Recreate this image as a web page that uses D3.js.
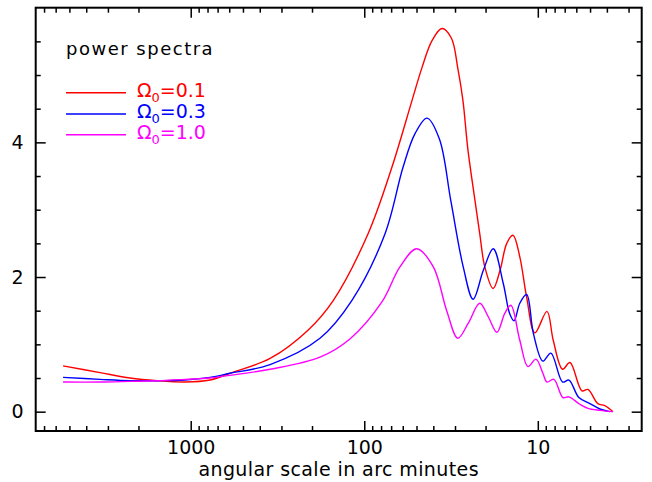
<!DOCTYPE html>
<html>
<head>
<meta charset="utf-8">
<script src="https://cdn.jsdelivr.net/npm/d3@7"></script>
<style>
  html, body { margin: 0; padding: 0; background: #fff; }
  svg text { font-family: "DejaVu Sans", sans-serif; fill: #000; }
</style>
</head>
<body>
<svg id="chart" width="652" height="482"></svg>
<script>
"use strict";

// ===== Data (angular scale in arc minutes, power) =====
const omegaLabels = ["0.1", "0.3", "1.0"];
const omegaColors = ["#ff0000", "#0000ff", "#ff00ff"];

const thetaOmega01 = [5440, 3332, 2237, 1564, 1078, 774, 594, 349, 211, 151, 95.2, 69.3, 53.1, 46.5, 40.7, 35.7, 31.5, 28.9, 27.0, 25.3, 23.0, 21.6, 20.2, 18.1, 16.5, 15.1, 13.9, 12.7, 11.6, 10.4, 8.86, 8.15, 7.2, 6.53, 5.57, 5.14, 4.51, 4.11, 3.69];
const powerOmega01 = [0.68, 0.58, 0.50, 0.46, 0.44, 0.47, 0.57, 0.79, 1.21, 1.65, 2.64, 3.63, 4.62, 5.11, 5.51, 5.69, 5.55, 5.10, 4.62, 3.90, 3.13, 2.64, 2.15, 1.83, 2.10, 2.50, 2.62, 2.30, 1.70, 1.17, 1.49, 1.06, 0.63, 0.73, 0.31, 0.33, 0.12, 0.09, 0.0];

const thetaOmega03 = [5440, 3332, 2237, 1564, 1078, 774, 594, 349, 180, 118, 76.0, 59.8, 51.0, 43.5, 36.9, 31.7, 26.9, 23.6, 20.6, 18.07, 15.8, 14.5, 13.7, 12.7, 11.6, 10.6, 9.35, 8.41, 7.2, 6.62, 5.8, 5.01, 4.39, 3.84];
const powerOmega03 = [0.51, 0.48, 0.46, 0.46, 0.47, 0.51, 0.57, 0.70, 1.09, 1.65, 2.64, 3.63, 4.13, 4.36, 4.05, 3.13, 2.15, 1.67, 2.10, 2.42, 1.90, 1.45, 1.35, 1.61, 1.74, 1.16, 0.75, 0.87, 0.44, 0.47, 0.21, 0.12, 0.04, 0.0];

const thetaOmega10 = [5440, 3332, 2237, 1564, 1078, 774, 594, 349, 180, 121, 79.1, 62.3, 49.9, 40.0, 33.5, 28.9, 25.2, 21.6, 19.3, 17.2, 15.5, 14.3, 12.7, 11.4, 10.25, 9.35, 8.86, 8.08, 7.17, 6.62, 5.72, 5.14, 4.39, 3.69];
const powerOmega10 = [0.44, 0.44, 0.45, 0.46, 0.48, 0.50, 0.54, 0.63, 0.81, 1.08, 1.63, 2.15, 2.42, 2.15, 1.50, 1.09, 1.31, 1.61, 1.41, 1.18, 1.46, 1.58, 1.06, 0.67, 0.78, 0.57, 0.44, 0.48, 0.21, 0.22, 0.11, 0.05, 0.02, 0.0];

const xMajorTicks = [1000, 100, 10];
const xMinorTicks = [7000, 6000, 5000, 4000, 3000, 2000, 900, 800, 700, 600, 500, 400, 300, 200,
                     90, 80, 70, 60, 50, 40, 30, 20, 9, 8, 7, 6, 5, 4, 3];
const yMajorTicks = [0, 2, 4];
const yMinorTicks = [0.5, 1, 1.5, 2.5, 3, 3.5, 4.5, 5, 5.5];

const series = [
  { label: omegaLabels[0], color: omegaColors[0], theta: thetaOmega01, power: powerOmega01 },
  { label: omegaLabels[1], color: omegaColors[1], theta: thetaOmega03, power: powerOmega03 },
  { label: omegaLabels[2], color: omegaColors[2], theta: thetaOmega10, power: powerOmega10 },
];

// ===== Layout =====
const plot = { left: 35.7, right: 641.7, top: 7.7, bottom: 431 };

const svg = d3.select("#chart");

const x = d3.scaleLog()
  .domain([7820, 2.52])
  .range([plot.left, plot.right]);

const y = d3.scaleLinear()
  .domain([-0.287, 6])
  .range([plot.bottom, plot.top]);

// ===== Axes (ticks point inward, frame drawn separately) =====
function drawAxis(axis, transform, showLabels) {
  const gAx = svg.append("g").attr("transform", transform).call(axis);
  gAx.select(".domain").remove();
  gAx.selectAll(".tick line").attr("stroke", "#000").attr("stroke-width", 1.5);
  if (!showLabels) gAx.selectAll(".tick text").remove();
  return gAx;
}

const bottomMajor = drawAxis(
  d3.axisBottom(x).tickValues(xMajorTicks).tickSize(-10).tickPadding(10).tickFormat(d3.format("d")),
  `translate(0,${plot.bottom})`, true);
drawAxis(d3.axisBottom(x).tickValues(xMinorTicks).tickSize(-5), `translate(0,${plot.bottom})`, false);
drawAxis(d3.axisTop(x).tickValues(xMajorTicks).tickSize(-10), `translate(0,${plot.top})`, false);
drawAxis(d3.axisTop(x).tickValues(xMinorTicks).tickSize(-5), `translate(0,${plot.top})`, false);

const leftMajor = drawAxis(
  d3.axisLeft(y).tickValues(yMajorTicks).tickSize(-10).tickPadding(12).tickFormat(d3.format("d")),
  `translate(${plot.left},0)`, true);
drawAxis(d3.axisLeft(y).tickValues(yMinorTicks).tickSize(-5), `translate(${plot.left},0)`, false);
drawAxis(d3.axisRight(y).tickValues(yMajorTicks).tickSize(-10), `translate(${plot.right},0)`, false);
drawAxis(d3.axisRight(y).tickValues(yMinorTicks).tickSize(-5), `translate(${plot.right},0)`, false);

[bottomMajor, leftMajor].forEach(gAx => {
  gAx.selectAll(".tick text")
    .attr("font-size", 19)
    .attr("font-family", "DejaVu Sans, sans-serif")
    .attr("fill", "#000");
});

// Frame
svg.append("rect")
  .attr("x", plot.left).attr("y", plot.top)
  .attr("width", plot.right - plot.left)
  .attr("height", plot.bottom - plot.top)
  .attr("fill", "none")
  .attr("stroke", "#000")
  .attr("stroke-width", 2);

// Axis title
svg.append("text")
  .attr("x", (plot.left + plot.right) / 2)
  .attr("y", 476)
  .attr("text-anchor", "middle")
  .attr("font-size", 19)
  .attr("letter-spacing", 0.4)
  .text("angular scale in arc minutes");

// ===== Curves =====
const line = d3.line()
  .x(d => x(d[0]))
  .y(d => y(d[1]))
  .curve(d3.curveCatmullRom.alpha(0.5));

svg.append("g").attr("class", "curves")
  .selectAll("path")
  .data(series)
  .join("path")
  .attr("fill", "none")
  .attr("stroke", d => d.color)
  .attr("stroke-width", 1.4)
  .attr("d", d => line(d.theta.map((t, i) => [t, d.power[i]])));

// ===== Legend =====
svg.append("text")
  .attr("x", 66)
  .attr("y", 55)
  .attr("font-size", 18)
  .attr("letter-spacing", 1.5)
  .text("power spectra");

const legendRowY = [92.7, 114, 134.7];
const legend = svg.append("g").attr("class", "legend")
  .selectAll("g")
  .data(series)
  .join("g")
  .attr("transform", (d, i) => `translate(0,${legendRowY[i]})`);

legend.append("line")
  .attr("x1", 66).attr("x2", 126)
  .attr("stroke", d => d.color)
  .attr("stroke-width", 1.4);

const legendText = legend.append("text")
  .attr("x", 137)
  .attr("y", 3.8)
  .attr("font-size", 19)
  .style("fill", d => d.color);
legendText.append("tspan").text("Ω");
legendText.append("tspan").attr("font-size", 13).attr("dy", 5).text("0");
legendText.append("tspan").attr("dy", -5).text(d => "=" + d.label);
</script>
</body>
</html>
